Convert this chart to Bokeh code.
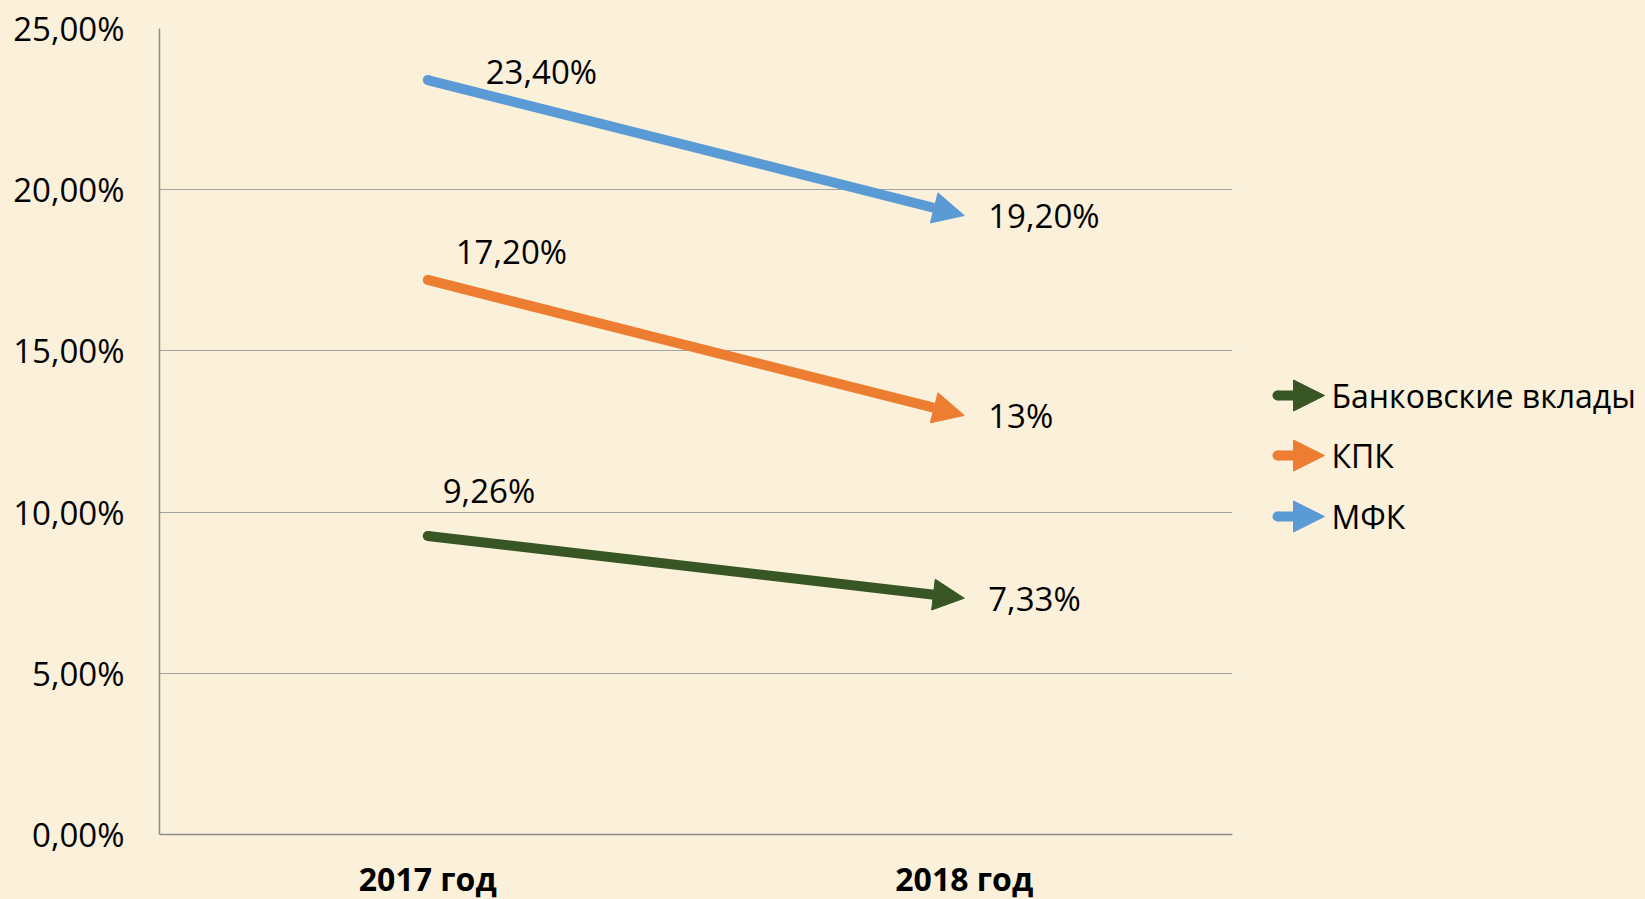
from bokeh.plotting import figure
from bokeh.models import (Range1d, FixedTicker, CustomJSTickFormatter, Arrow, NormalHead,
                          ColumnDataSource, Span)
from bokeh.layouts import row
from bokeh.embed import file_html
from bokeh.resources import INLINE
from bokeh.core.properties import value

# ---- data ----
years = ["2017 год", "2018 год"]
series_names = ["Банковские вклады", "КПК", "МФК"]
bank = [9.26, 7.33]
kpk = [17.2, 13.0]
mfk = [23.4, 19.2]
bank_labels = ["9,26%", "7,33%"]
kpk_labels = ["17,20%", "13%"]
mfk_labels = ["23,40%", "19,20%"]
y_ticks = [0, 5, 10, 15, 20, 25]

colors = ["#375623", "#ED7D31", "#5B9BD5"]
BG = "#FBF0D9"
FONT = "Open Sans"
AXIS_C = "#8C8C8C"

W_MAIN = 1240
H = 899
TOP = 28
ZERO_PX = 834          # pixel row of the 0 % line
Y_MAX = 25
px_per_unit = (ZERO_PX - TOP) / Y_MAX
y_min = -(H - ZERO_PX) / px_per_unit

p = figure(width=W_MAIN, height=H, output_backend="svg", toolbar_location=None,
           x_range=Range1d(0, 2), y_range=Range1d(y_min, Y_MAX),
           min_border_left=159, min_border_right=8, min_border_top=TOP, min_border_bottom=0)
p.background_fill_color = BG
p.border_fill_color = BG
p.outline_line_color = None

xpos = [i + 0.5 for i in range(len(years))]

p.xaxis.visible = False
p.yaxis.ticker = FixedTicker(ticks=y_ticks)
p.yaxis.bounds = (0, Y_MAX)
p.yaxis.formatter = CustomJSTickFormatter(code="return tick.toFixed(2).replace('.', ',') + '%';")
p.yaxis.axis_line_color = AXIS_C
p.yaxis.axis_line_width = 1.5
p.yaxis.major_tick_line_color = None
p.yaxis.minor_tick_line_color = None
p.yaxis.major_tick_out = 0
p.yaxis.major_tick_in = 0
p.yaxis.major_label_text_font = FONT
p.yaxis.major_label_text_color = "#000000"
p.yaxis.major_label_text_font_size = "33px"
p.yaxis.major_label_standoff = 35

p.xgrid.grid_line_color = None
p.ygrid.ticker = FixedTicker(ticks=y_ticks)
p.ygrid.grid_line_color = "#A3A3A3"
p.ygrid.grid_line_width = 1

# x axis line at 0 %
p.add_layout(Span(location=0, dimension="width", line_color=AXIS_C, line_width=1.5))

# category labels
csrc = ColumnDataSource(dict(x=xpos, y=[0] * len(years), text=years))
p.text(x="x", y="y", text="text", source=csrc, y_offset=44,
       text_font=value(FONT), text_font_size="32px", text_font_style="bold",
       text_align="center", text_baseline="alphabetic", text_color="#000000")

series = [bank, kpk, mfk]
labels = [bank_labels, kpk_labels, mfk_labels]
# label offsets (screen px) for the 2017 labels, per series
start_dx = [15, 28, 58]
start_dy = [-45, -28, -9]

for vals, labs, c, sdx, sdy in zip(series, labels, colors, start_dx, start_dy):
    p.add_layout(Arrow(end=NormalHead(size=31, fill_color=c, line_color=c, line_width=1),
                       x_start=xpos[0], y_start=vals[0], x_end=xpos[1], y_end=vals[1],
                       line_color=c, line_width=10, line_cap="butt"))
    p.scatter(x=[xpos[0]], y=[vals[0]], size=10, marker="circle", fill_color=c, line_color=None)
    src = ColumnDataSource(dict(x=xpos, y=vals, text=labs, dx=[sdx, 24], dy=[sdy, 0]))
    p.text(x="x", y="y", text="text", source=src, x_offset="dx", y_offset="dy",
           text_font=value(FONT), text_font_size="33px", text_align="left",
           text_baseline="middle", text_color="#000000")

# ---- legend panel ----
W_LEG = 1645 - W_MAIN
lg = figure(width=W_LEG, height=H, output_backend="svg", toolbar_location=None,
            x_range=Range1d(0, W_LEG), y_range=Range1d(H, TOP),
            min_border_left=0, min_border_right=0, min_border_top=TOP, min_border_bottom=0)
lg.axis.visible = False
lg.grid.visible = False
lg.background_fill_color = BG
lg.border_fill_color = BG
lg.outline_line_color = None

leg_y = [395, 455, 516]
for name, c, yy in zip(series_names, colors, leg_y):
    lg.add_layout(Arrow(end=NormalHead(size=31, fill_color=c, line_color=c, line_width=1),
                        x_start=37, y_start=yy, x_end=84, y_end=yy,
                        line_color=c, line_width=10, line_cap="butt"))
    lg.scatter(x=[37], y=[yy], size=10, marker="circle", fill_color=c, line_color=None)
lsrc = ColumnDataSource(dict(x=[91] * 3, y=leg_y, text=series_names))
lg.text(x="x", y="y", text="text", source=lsrc, text_font=value(FONT),
        text_font_size="32px", text_align="left", text_baseline="middle", text_color="#000000")

layout = row(p, lg, spacing=0, styles={"background-color": BG})
open("out.html", "w").write(file_html(layout, INLINE))
